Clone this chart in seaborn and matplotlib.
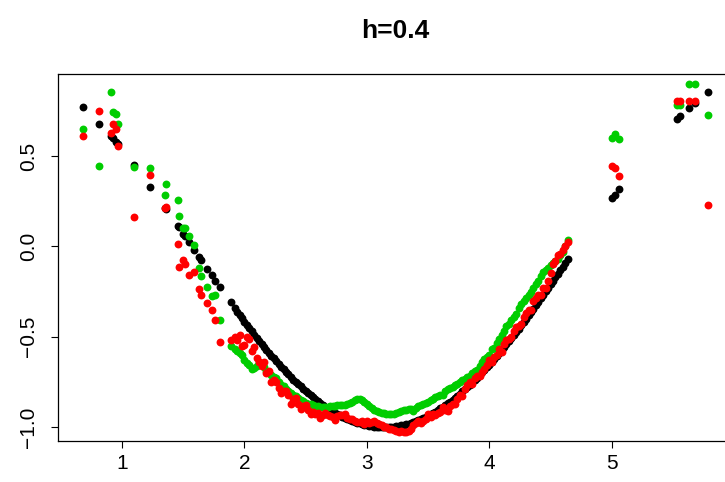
import numpy as np
import pandas as pd
import seaborn as sns
import matplotlib
matplotlib.use("Agg")
import matplotlib.pyplot as plt

# ---- data (x, true curve, two smooths) ----
x_left = [0.68, 0.815, 0.91, 0.93, 0.955, 0.965, 1.10, 1.23, 1.355, 1.362,
          1.455, 1.465, 1.50, 1.514, 1.549, 1.59, 1.631, 1.645, 1.696, 1.732,
          1.76, 1.80, 1.887]
black_left = [0.77, 0.68, 0.61, 0.60, 0.575, 0.565, 0.45, 0.33, 0.214, 0.207,
              0.115, 0.105, 0.071, 0.056, 0.022, -0.019, -0.06, -0.074, -0.125, -0.16,
              -0.19, -0.227, -0.31]
green_left = [0.65, 0.445, 0.855, 0.745, 0.735, 0.675, 0.44, 0.435, 0.282, 0.347,
              0.256, 0.167, 0.104, 0.10, 0.058, 0.009, -0.122, -0.165, -0.227, -0.272,
              -0.27, -0.409, -0.554]
red_left = [0.61, 0.75, 0.63, 0.675, 0.65, 0.555, 0.16, 0.395, 0.214, 0.22,
            0.015, -0.113, -0.078, -0.10, -0.158, -0.14, -0.236, -0.267, -0.313, -0.354,
            -0.409, -0.527, -0.518]

# dense middle part, 1.92 .. 4.64
x_mid = [1.92, 1.94, 1.96, 1.98, 2.00, 2.02, 2.04, 2.06, 2.08, 2.10,
         2.12, 2.14, 2.16, 2.18, 2.20, 2.22, 2.24, 2.26, 2.28, 2.30,
         2.32, 2.34, 2.36, 2.38, 2.40, 2.42, 2.44, 2.46, 2.48, 2.50,
         2.52, 2.54, 2.56, 2.58, 2.60, 2.62, 2.64, 2.66, 2.68, 2.70,
         2.72, 2.74, 2.76, 2.78, 2.80, 2.82, 2.84, 2.86, 2.88, 2.90,
         2.92, 2.94, 2.96, 2.98, 3.00, 3.02, 3.04, 3.06, 3.08, 3.10,
         3.12, 3.14, 3.16, 3.18, 3.20, 3.22, 3.24, 3.26, 3.28, 3.30,
         3.32, 3.34, 3.36, 3.38, 3.40, 3.42, 3.44, 3.46, 3.48, 3.50,
         3.52, 3.54, 3.56, 3.58, 3.60, 3.62, 3.64, 3.66, 3.68, 3.70,
         3.72, 3.74, 3.76, 3.78, 3.80, 3.82, 3.84, 3.86, 3.88, 3.90,
         3.92, 3.94, 3.96, 3.98, 4.00, 4.02, 4.04, 4.06, 4.08, 4.10,
         4.12, 4.14, 4.16, 4.18, 4.20, 4.22, 4.24, 4.26, 4.28, 4.30,
         4.32, 4.34, 4.36, 4.38, 4.40, 4.42, 4.44, 4.46, 4.48, 4.50,
         4.52, 4.54, 4.56, 4.58, 4.60, 4.62, 4.64]
black_mid = [-0.342, -0.361, -0.379, -0.397, -0.416, -0.434, -0.452, -0.470, -0.488, -0.505,
             -0.522, -0.539, -0.555, -0.572, -0.589, -0.605, -0.620, -0.636, -0.651, -0.666,
             -0.680, -0.694, -0.708, -0.723, -0.737, -0.750, -0.763, -0.775, -0.787, -0.801,
             -0.811, -0.823, -0.834, -0.846, -0.857, -0.867, -0.877, -0.887, -0.896, -0.904,
             -0.913, -0.921, -0.929, -0.936, -0.942, -0.949, -0.955, -0.961, -0.966, -0.971,
             -0.976, -0.980, -0.984, -0.987, -0.990, -0.993, -0.995, -0.997, -0.998, -0.999,
             -1.000, -1.000, -1.000, -0.999, -0.998, -0.997, -0.995, -0.993, -0.990, -0.987,
             -0.984, -0.981, -0.977, -0.972, -0.967, -0.962, -0.956, -0.950, -0.944, -0.936,
             -0.930, -0.922, -0.914, -0.906, -0.897, -0.888, -0.879, -0.869, -0.859, -0.848,
             -0.838, -0.827, -0.815, -0.803, -0.791, -0.779, -0.766, -0.753, -0.740, -0.726,
             -0.712, -0.698, -0.684, -0.669, -0.654, -0.639, -0.623, -0.607, -0.591, -0.575,
             -0.558, -0.541, -0.525, -0.507, -0.490, -0.473, -0.455, -0.437, -0.419, -0.401,
             -0.382, -0.363, -0.344, -0.326, -0.307, -0.288, -0.268, -0.249, -0.229, -0.211,
             -0.190, -0.171, -0.151, -0.132, -0.112, -0.092, -0.072]
green_mid = [-0.57, -0.58, -0.59, -0.60, -0.63, -0.645, -0.655, -0.68, -0.675, -0.66,
             -0.64, -0.655, -0.67, -0.69, -0.70, -0.71, -0.725, -0.73, -0.75, -0.765,
             -0.775, -0.79, -0.80, -0.81, -0.82, -0.83, -0.84, -0.85, -0.855, -0.865,
             -0.87, -0.875, -0.88, -0.885, -0.885, -0.89, -0.89, -0.89, -0.89, -0.885,
             -0.885, -0.885, -0.88, -0.88, -0.88, -0.88, -0.875, -0.865, -0.86, -0.85,
             -0.845, -0.845, -0.85, -0.86, -0.875, -0.885, -0.895, -0.905, -0.91, -0.915,
             -0.92, -0.925, -0.93, -0.93, -0.93, -0.93, -0.925, -0.915, -0.91, -0.905,
             -0.905, -0.90, -0.90, -0.91, -0.895, -0.885, -0.88, -0.87, -0.865, -0.86,
             -0.85, -0.845, -0.835, -0.83, -0.825, -0.82, -0.80, -0.79, -0.785, -0.78,
             -0.77, -0.76, -0.75, -0.74, -0.735, -0.725, -0.715, -0.70, -0.69, -0.685,
             -0.66, -0.64, -0.625, -0.61, -0.60, -0.57, -0.56, -0.535, -0.51, -0.49,
             -0.47, -0.44, -0.43, -0.41, -0.39, -0.375, -0.34, -0.32, -0.30, -0.285,
             -0.27, -0.25, -0.23, -0.21, -0.19, -0.165, -0.14, -0.13, -0.12, -0.105,
             -0.09, -0.08, -0.07, -0.05, -0.03, 0.0, 0.035]
red_mid = [-0.50, -0.52, -0.49, -0.55, -0.545, -0.50, -0.51, -0.58, -0.555, -0.62,
           -0.64, -0.66, -0.64, -0.70, -0.69, -0.75, -0.74, -0.75, -0.785, -0.81,
           -0.80, -0.80, -0.82, -0.87, -0.845, -0.84, -0.875, -0.90, -0.885, -0.88,
           -0.905, -0.93, -0.915, -0.93, -0.925, -0.95, -0.935, -0.92, -0.935, -0.94,
           -0.945, -0.96, -0.94, -0.935, -0.935, -0.93, -0.95, -0.955, -0.955, -0.965,
           -0.97, -0.97, -0.965, -0.985, -0.965, -0.975, -0.97, -0.965, -0.98, -0.985,
           -0.99, -1.00, -1.00, -1.01, -1.01, -1.015, -1.02, -1.03, -1.02, -1.025,
           -1.03, -1.02, -1.01, -0.99, -0.975, -0.965, -0.975, -0.965, -0.955, -0.93,
           -0.945, -0.93, -0.935, -0.925, -0.915, -0.89, -0.905, -0.91, -0.885, -0.87,
           -0.875, -0.845, -0.82, -0.83, -0.79, -0.77, -0.75, -0.76, -0.73, -0.72,
           -0.72, -0.695, -0.68, -0.655, -0.63, -0.64, -0.615, -0.60, -0.57, -0.585,
           -0.54, -0.52, -0.51, -0.50, -0.47, -0.445, -0.44, -0.43, -0.39, -0.37,
           -0.35, -0.35, -0.30, -0.285, -0.27, -0.27, -0.23, -0.23, -0.19, -0.15,
           -0.10, -0.08, -0.05, -0.04, -0.02, 0.0, 0.025]

x_right = [5.005, 5.024, 5.06, 5.535, 5.555, 5.631, 5.683, 5.786]
black_right = [0.267, 0.285, 0.318, 0.705, 0.723, 0.768, 0.796, 0.857]
green_right = [0.60, 0.623, 0.594, 0.781, 0.781, 0.899, 0.899, 0.727]
red_right = [0.445, 0.436, 0.387, 0.803, 0.803, 0.803, 0.803, 0.227]

x_ticks = [1, 2, 3, 4, 5]
y_ticks = [-1.0, -0.5, 0.0, 0.5]
y_tick_labels = ["\u22121.0", "\u22120.5", "0.0", "0.5"]

df = pd.DataFrame({
    "x": x_left + x_mid + x_right,
    "truth": black_left + black_mid + black_right,
    "fit_green": green_left + green_mid + green_right,
    "fit_red": red_left + red_mid + red_right,
})

plt.rcParams["font.family"] = ["Liberation Sans", "DejaVu Sans"]

fig = plt.figure(figsize=(7.25, 4.82), dpi=100)
ax = fig.add_axes([57.8 / 725, (482 - 440.6) / 482, (733 - 57.8) / 725, (440.6 - 74) / 482])

# R-style pch=20 dots, drawn truth first, then the two fits on top
for col, colour in [("truth", "black"), ("fit_green", "#00CD00"), ("fit_red", "#FF0000")]:
    sns.scatterplot(data=df, x="x", y=col, color=colour, s=32, linewidth=0, ax=ax)

ax.set_xlim(0.476, 5.99)
ax.set_ylim(-1.075, 0.954)
ax.set_xticks(x_ticks)
ax.set_yticks(y_ticks)
ax.set_yticklabels(y_tick_labels, rotation=90, va="center")
ax.set_xlabel("")
ax.set_ylabel("")
ax.tick_params(direction="out", length=5, width=0.8, labelsize=15, colors="black")
ax.tick_params(axis="y", pad=9)
ax.tick_params(axis="x", pad=5)
for sp in ax.spines.values():
    sp.set_color("black")
    sp.set_linewidth(0.9)

fig.text(395 / 725, 1 - 31 / 482, "h=0.4", ha="center", va="center",
         fontsize=19, fontweight="bold")

fig.savefig("out.png", dpi=100)
